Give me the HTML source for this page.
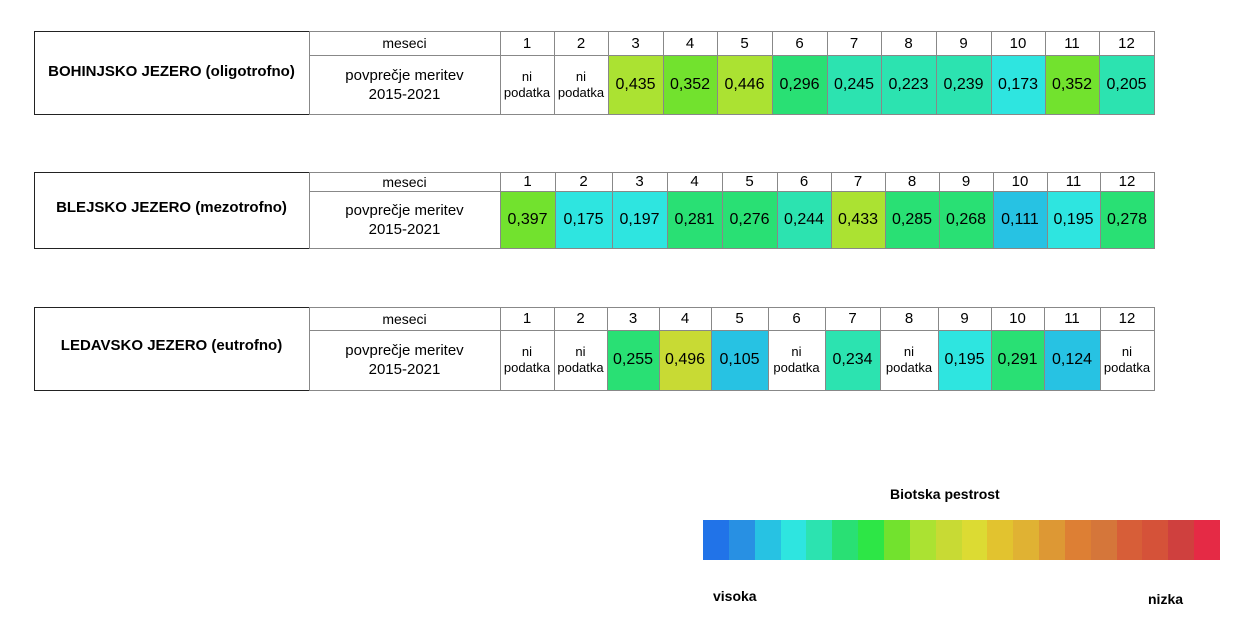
<!DOCTYPE html>
<html><head><meta charset="utf-8">
<style>
body{margin:0;width:1250px;height:626px;background:#fff;position:relative;overflow:hidden;font-family:"Liberation Sans",sans-serif;color:#000}
.c{position:absolute;box-sizing:border-box;display:flex;align-items:center;justify-content:center;text-align:center;border:1px solid #888;margin:-0.5px}
.t{position:absolute;box-sizing:border-box;border:1.5px solid #222}
.lg{position:absolute;top:520px;height:40px}
.lab{position:absolute;font-weight:bold;font-size:14px}
</style></head><body>
<div id="root"></div>
<div class="lab" style="left:890px;top:486px">Biotska pestrost</div>
<div class="lab" style="left:713px;top:588px">visoka</div>
<div class="lab" style="left:1148px;top:591px">nizka</div>
<div id="legend"></div>
<script>
const lakes = ["BOHINJSKO JEZERO (oligotrofno)", "BLEJSKO JEZERO (mezotrofno)", "LEDAVSKO JEZERO (eutrofno)"];
const months = ["1","2","3","4","5","6","7","8","9","10","11","12"];
const bohinjValues = [null,null,0.435,0.352,0.446,0.296,0.245,0.223,0.239,0.173,0.352,0.205];
const bledValues = [0.397,0.175,0.197,0.281,0.276,0.244,0.433,0.285,0.268,0.111,0.195,0.278];
const ledavaValues = [null,null,0.255,0.496,0.105,null,0.234,null,0.195,0.291,0.124,null];
const legendColors = ["#2173E8","#2890E3","#27C2E3","#2EE5E0","#2CE3B0","#29E074","#2DE646","#72E22E","#ABE232","#C8DA34","#DCDB33","#E2C32F","#E0B233","#DD9834","#DD7F34","#D5763A","#D75E38","#D55239","#CF403E","#E52A45"];

const series=[bohinjValues,bledValues,ledavaValues];
const layouts=[
 {top:31,mid:55,bot:114,cols:[500,554,608,663,717,772,827,881,936,991,1045,1099,1154],ty:72},
 {top:172,mid:191,bot:248,cols:[500,555,612,667,722,777,831,885,939,993,1047,1100,1154],ty:208},
 {top:307,mid:330,bot:390,cols:[500,554,607,659,711,768,825,880,938,991,1044,1100,1154],ty:346}
];
function colorFor(v){return legendColors[Math.min(19,Math.floor(v*20))];}
const root=document.getElementById('root');
function cell(x,y,w,h,html,fs,bg){
  const d=document.createElement('div');d.className='c';
  d.style.cssText=`left:${x}px;top:${y}px;width:${w+1}px;height:${h+1}px;font-size:${fs}px;`+(bg?`background:${bg};`:'');
  d.innerHTML=html;root.appendChild(d);return d;
}
layouts.forEach((L,i)=>{
  const t=document.createElement('div');t.className='t';
  t.style.cssText=`left:34px;top:${L.top}px;width:1121px;height:${L.bot-L.top+1}px;`;
  
  
  root.appendChild(t);
  const ti=document.createElement('div');
  ti.style.cssText=`position:absolute;left:34px;width:275px;top:${L.ty-9}px;font-weight:bold;font-size:15px;text-align:center;white-space:nowrap`;
  ti.textContent=lakes[i];
  
  
  root.appendChild(ti);
  const hh=L.mid-L.top, bh=L.bot-L.mid;
  let d=cell(309,L.top,191,hh,'meseci',14);
  
  
  d=cell(309,L.mid,191,bh,'povprečje meritev<br>2015-2021',15);
  d.style.lineHeight='19px';
  
  
  months.forEach((m,j)=>{
    const x=L.cols[j],w=L.cols[j+1]-L.cols[j];
    let h=cell(x,L.top,w,hh,m,15);
    
    
    const v=series[i][j];
    let c;
    if(v===null){c=cell(x,L.mid,w,bh,'ni<br>podatka',13);c.style.lineHeight='16px';}
    else c=cell(x,L.mid,w,bh,v.toFixed(3).replace('.',','),16,colorFor(v));
    
    
  });
});
const lg=document.getElementById('legend');
const lx=703,lw=517;
legendColors.forEach((col,k)=>{
  const s=document.createElement('div');s.className='lg';
  const x0=lx+k*lw/20,x1=lx+(k+1)*lw/20;
  s.style.cssText=`left:${x0}px;width:${x1-x0+0.5}px;background:${col}`;
  
  
  lg.appendChild(s);
});
</script>
</body></html>
